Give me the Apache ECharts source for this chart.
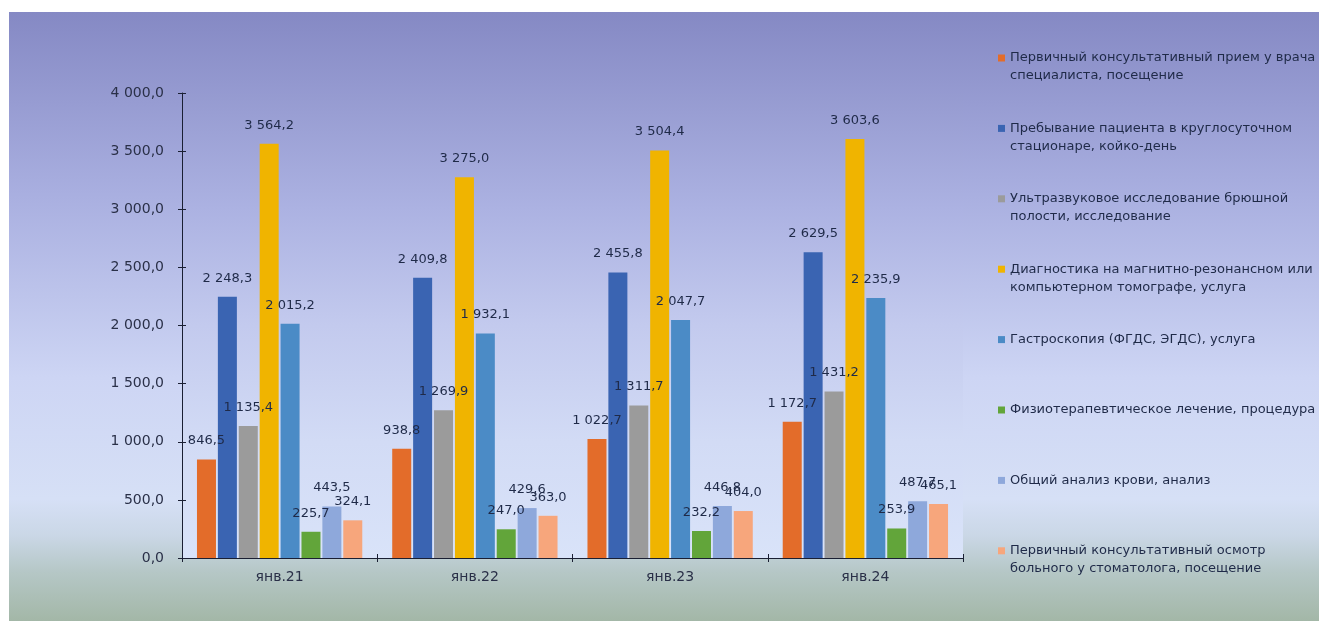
<!DOCTYPE html>
<html>
<head>
<meta charset="utf-8">
<script src="https://cdn.jsdelivr.net/npm/echarts@6/dist/echarts.min.js"></script>
<style>
html,body{margin:0;padding:0;background:#fff;}
#c{width:1319px;height:621px;}
</style>
</head>
<body>
<div id="c"></div>
<script>
const categories = ['янв.21', 'янв.22', 'янв.23', 'янв.24'];
const seriesNames = [
  'Первичный консультативный прием у врача специалиста, посещение',
  'Пребывание пациента в круглосуточном стационаре, койко-день',
  'Ультразвуковое исследование брюшной полости, исследование',
  'Диагностика на магнитно-резонансном или компьютерном томографе, услуга',
  'Гастроскопия (ФГДС, ЭГДС), услуга',
  'Физиотерапевтическое лечение, процедура',
  'Общий анализ крови, анализ',
  'Первичный консультативный осмотр больного у стоматолога, посещение'
];
const legendLines = [
  ['Первичный консультативный прием у врача', 'специалиста, посещение'],
  ['Пребывание пациента в круглосуточном', 'стационаре, койко-день'],
  ['Ультразвуковое исследование брюшной', 'полости, исследование'],
  ['Диагностика на магнитно-резонансном или', 'компьютерном томографе, услуга'],
  ['Гастроскопия (ФГДС, ЭГДС), услуга', ''],
  ['Физиотерапевтическое лечение, процедура', ''],
  ['Общий анализ крови, анализ', ''],
  ['Первичный консультативный осмотр', 'больного у стоматолога, посещение']
];
const primaryVisit = [846.5, 938.8, 1022.7, 1172.7];
const hospitalStay = [2248.3, 2409.8, 2455.8, 2629.5];
const ultrasound = [1135.4, 1269.9, 1311.7, 1431.2];
const mriCt = [3564.2, 3275.0, 3504.4, 3603.6];
const gastroscopy = [2015.2, 1932.1, 2047.7, 2235.9];
const physio = [225.7, 247.0, 232.2, 253.9];
const bloodTest = [443.5, 429.6, 446.8, 487.7];
const dentist = [324.1, 363.0, 404.0, 465.1];
const yTicks = [0, 500, 1000, 1500, 2000, 2500, 3000, 3500, 4000];

const values = [primaryVisit, hospitalStay, ultrasound, mriCt, gastroscopy, physio, bloodTest, dentist];
const colors = ['#E36C2A', '#3A64B2', '#9B9B9B', '#F0B400', '#4B8BC6', '#62A53A', '#8EA8DB', '#F7A67C'];

function fmt(v) {
  const s = Number(v).toFixed(1).split('.');
  const intPart = s[0].replace(/\B(?=(\d{3})+(?!\d))/g, ' ');
  return intPart + ',' + s[1];
}

const font = 'DejaVu Sans';
const textColor = '#1F2A48';
const axisColor = '#1A1F33';

const chart = echarts.init(document.getElementById('c'), null, {renderer: 'canvas'});

const series = values.map((d, i) => ({
  name: seriesNames[i],
  type: 'bar',
  data: d,
  barWidth: 19,
  barGap: '10%',
  itemStyle: {color: colors[i]},
  label: {
    show: true,
    position: 'top',
    distance: 12,
    formatter: p => fmt(p.value),
    fontFamily: font,
    fontSize: 13,
    color: textColor
  }
}));

chart.setOption({
  animation: false,
  backgroundColor: '#ffffff',
  graphic: [{
    type: 'rect',
    z: -10,
    silent: true,
    shape: {x: 9, y: 12, width: 1310, height: 609},
    style: {
      fill: new echarts.graphic.LinearGradient(0, 0, 0, 1, [
        {offset: 0, color: '#8589C4'},
        {offset: 0.3, color: '#A9AFE0'},
        {offset: 0.6, color: '#CDD5F4'},
        {offset: 0.8, color: '#D6E0F6'},
        {offset: 0.86, color: '#CAD7E6'},
        {offset: 0.92, color: '#B5C7C6'},
        {offset: 1, color: '#A3B7A7'}
      ])
    }
  }],
  grid: {
    left: 182, right: 356, top: 93, bottom: 63, containLabel: false,
    show: true, borderWidth: 0,
    backgroundColor: new echarts.graphic.LinearGradient(0, 0, 0, 1, [
      {offset: 0, color: '#959AD0'},
      {offset: 0.25, color: '#ACB2E2'},
      {offset: 0.5, color: '#C3CAEE'},
      {offset: 0.75, color: '#D2DBF5'},
      {offset: 1, color: '#D9E3F9'}
    ])
  },
  legend: {
    data: seriesNames,
    orient: 'vertical',
    left: 993,
    top: 26,
    itemWidth: 7,
    itemHeight: 7,
    itemGap: 16.4,
    icon: 'rect',
    selectedMode: false,
    formatter: name => {
      const l = legendLines[seriesNames.indexOf(name)];
      return '\n' + l[0] + '\n' + l[1];
    },
    textStyle: {fontFamily: font, fontSize: 13, color: textColor, lineHeight: 18}
  },
  xAxis: [{
    type: 'category',
    data: categories,
    boundaryGap: true,
    axisLine: {lineStyle: {color: axisColor, width: 1}},
    axisTick: {show: true, alignWithLabel: false, length: 4, lineStyle: {color: axisColor}},
    axisLabel: {fontFamily: font, fontSize: 14, color: '#2A3048', margin: 12}
  }, {
    type: 'category',
    data: categories,
    position: 'bottom',
    boundaryGap: true,
    axisLine: {show: false},
    axisTick: {show: true, inside: true, alignWithLabel: false, length: 4, lineStyle: {color: axisColor}},
    axisLabel: {show: false}
  }],
  yAxis: [{
    type: 'value',
    min: 0,
    max: 4000,
    interval: 500,
    splitLine: {show: false},
    axisLine: {show: true, lineStyle: {color: axisColor, width: 1}},
    axisTick: {show: true, length: 4, lineStyle: {color: axisColor}},
    axisLabel: {
      fontFamily: font, fontSize: 14, color: '#2A3048', margin: 18,
      formatter: v => yTicks.indexOf(v) >= 0 ? fmt(v) : ''
    }
  }, {
    type: 'value',
    min: 0,
    max: 4000,
    interval: 500,
    position: 'left',
    splitLine: {show: false},
    axisLine: {show: false},
    axisTick: {show: true, inside: true, length: 4, lineStyle: {color: axisColor}},
    axisLabel: {show: false}
  }],
  series: series
});
</script>
</body>
</html>
